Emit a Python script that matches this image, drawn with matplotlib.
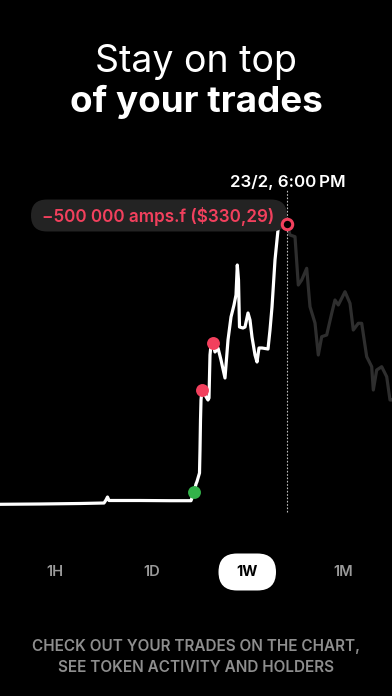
import matplotlib
matplotlib.use("Agg")
import matplotlib.pyplot as plt
from matplotlib.patches import FancyBboxPatch

plt.rcParams['font.family'] = ['Inter', 'DejaVu Sans']

# price path (time step, price)
times = [0, 40, 80, 104, 106, 107.5, 109, 112, 140, 170, 191, 194,
         196, 197, 199.5, 200, 200.5, 201, 202, 205, 208, 209, 210, 211, 213,
         215, 218, 221, 225, 228, 231, 234, 236, 237.3, 238.5, 239.5, 243, 245,
         248, 250, 252, 255, 257, 259, 262, 268, 270, 272, 275, 277, 278.5, 281,
         287]
prices = [15.7, 16, 16.5, 17, 20, 23, 19.5, 19.5, 19.5, 19.3, 19.3, 27.7,
          36, 38.5, 47, 70, 100, 120, 130, 125, 120, 122, 165, 175, 177,
          168, 172, 160, 142, 180, 203, 215, 225, 255, 240, 193, 192, 193,
          207, 200, 183, 165, 158, 172, 172, 171, 190, 213, 260, 280, 295, 298,
          296]
# price after the cursor (faded)
future_times = [287, 290, 295, 298.3, 301.7, 306.7, 310, 315, 318.3, 321.7,
                326.7, 331.7, 335, 338.3, 341.7, 345, 350, 353.3, 358.3, 361.7,
                366.7, 371.7, 373.3, 376.7, 381.7, 386.7, 390, 392]
future_prices = [296, 285, 283.3, 235, 240, 251.7, 213.3, 197, 165, 183.3,
                 185, 206.7, 220, 215, 221.7, 228.3, 216.7, 190, 196.7, 196.7,
                 163.3, 153.3, 130, 150, 153.3, 143.3, 120, 120]

buy_trades = [(194, 27.7)]
sell_trades = [(202, 130), (213, 177)]
cursor_trade = (287, 296)

trade_label = "\u2212500 000 amps.f ($330,29)"
cursor_label = "23/2, 6:00\u2009PM"
periods = ["1H", "1D", "1W", "1M"]
selected = "1W"

RED = "#f2405d"
GREEN = "#33b24a"
GREY = "#9a9a9a"

fig = plt.figure(figsize=(3.92, 6.96), dpi=100, facecolor="black")

# pixel overlay for the text and buttons
ov = fig.add_axes([0, 0, 1, 1])
ov.set_xlim(0, 392)
ov.set_ylim(696, 0)
ov.axis("off")

ov.text(196, 72, "Stay on top", color="white", fontsize=27, ha="center",
        va="baseline", fontweight="normal")
ov.text(196, 112, "of your trades", color="white", fontsize=26.5, ha="center",
        va="baseline", fontweight="bold")

# chart
ax = fig.add_axes([0, 176 / 696, 1, 340 / 696])
ax.set_xlim(0, 392)
ax.set_ylim(0, 340)
ax.axis("off")

ax.plot(times, prices, color="white", lw=2.3, solid_capstyle="round",
        solid_joinstyle="round", zorder=2)
ax.plot(future_times, future_prices, color="#2e2e2e", lw=2.3,
        solid_joinstyle="round", zorder=1)

# cursor
ax.plot([cursor_trade[0], cursor_trade[0]], [8, 330], color="#bdbdbd",
        lw=0.8, ls=(0, (1.5, 1.5)), zorder=1)

pill = FancyBboxPatch((31, 199.5), 256, 32, boxstyle="round,pad=0,rounding_size=16",
                      fc="#232323", ec="none", transform=ov.transData,
                      clip_on=False, zorder=3)
ax.add_patch(pill)
ax.text(158.5, 216, trade_label, color=RED, fontsize=12.3, fontweight="semibold",
        ha="center", va="center", transform=ov.transData, zorder=4)
ax.text(287.5, 183, cursor_label, color="white", fontsize=12.2,
        fontweight="semibold", ha="center", va="center",
        transform=ov.transData, zorder=4)

ax.plot(*zip(*buy_trades), "o", ms=9.3, color=GREEN, mec="none", zorder=5)
ax.plot(*zip(*sell_trades), "o", ms=9.3, color=RED, mec="none", zorder=5)
ax.plot(*cursor_trade, "o", ms=7.5, mfc="black", mec=RED, mew=2.2, zorder=5)

# period buttons
period_x = [55, 152, 247, 343]
for px, p in zip(period_x, periods):
    if p == selected:
        ov.add_patch(FancyBboxPatch((218.5, 553.5), 57.5, 37,
                                    boxstyle="round,pad=0,rounding_size=18.5",
                                    fc="white", ec="none"))
        ov.text(px, 572.5, p, color="black", fontsize=10.5, fontweight="bold",
                ha="center", va="center")
    else:
        ov.text(px, 572.5, p, color=GREY, fontsize=10.5, fontweight="semibold",
                ha="center", va="center")

ov.text(196, 646, "CHECK OUT YOUR TRADES ON THE CHART,", color="#8e8e8e",
        fontsize=11, fontweight="semibold", ha="center", va="center")
ov.text(196, 667, "SEE TOKEN ACTIVITY AND HOLDERS", color="#8e8e8e",
        fontsize=11, fontweight="semibold", ha="center", va="center")

fig.savefig("out.png", dpi=100, facecolor="black")
